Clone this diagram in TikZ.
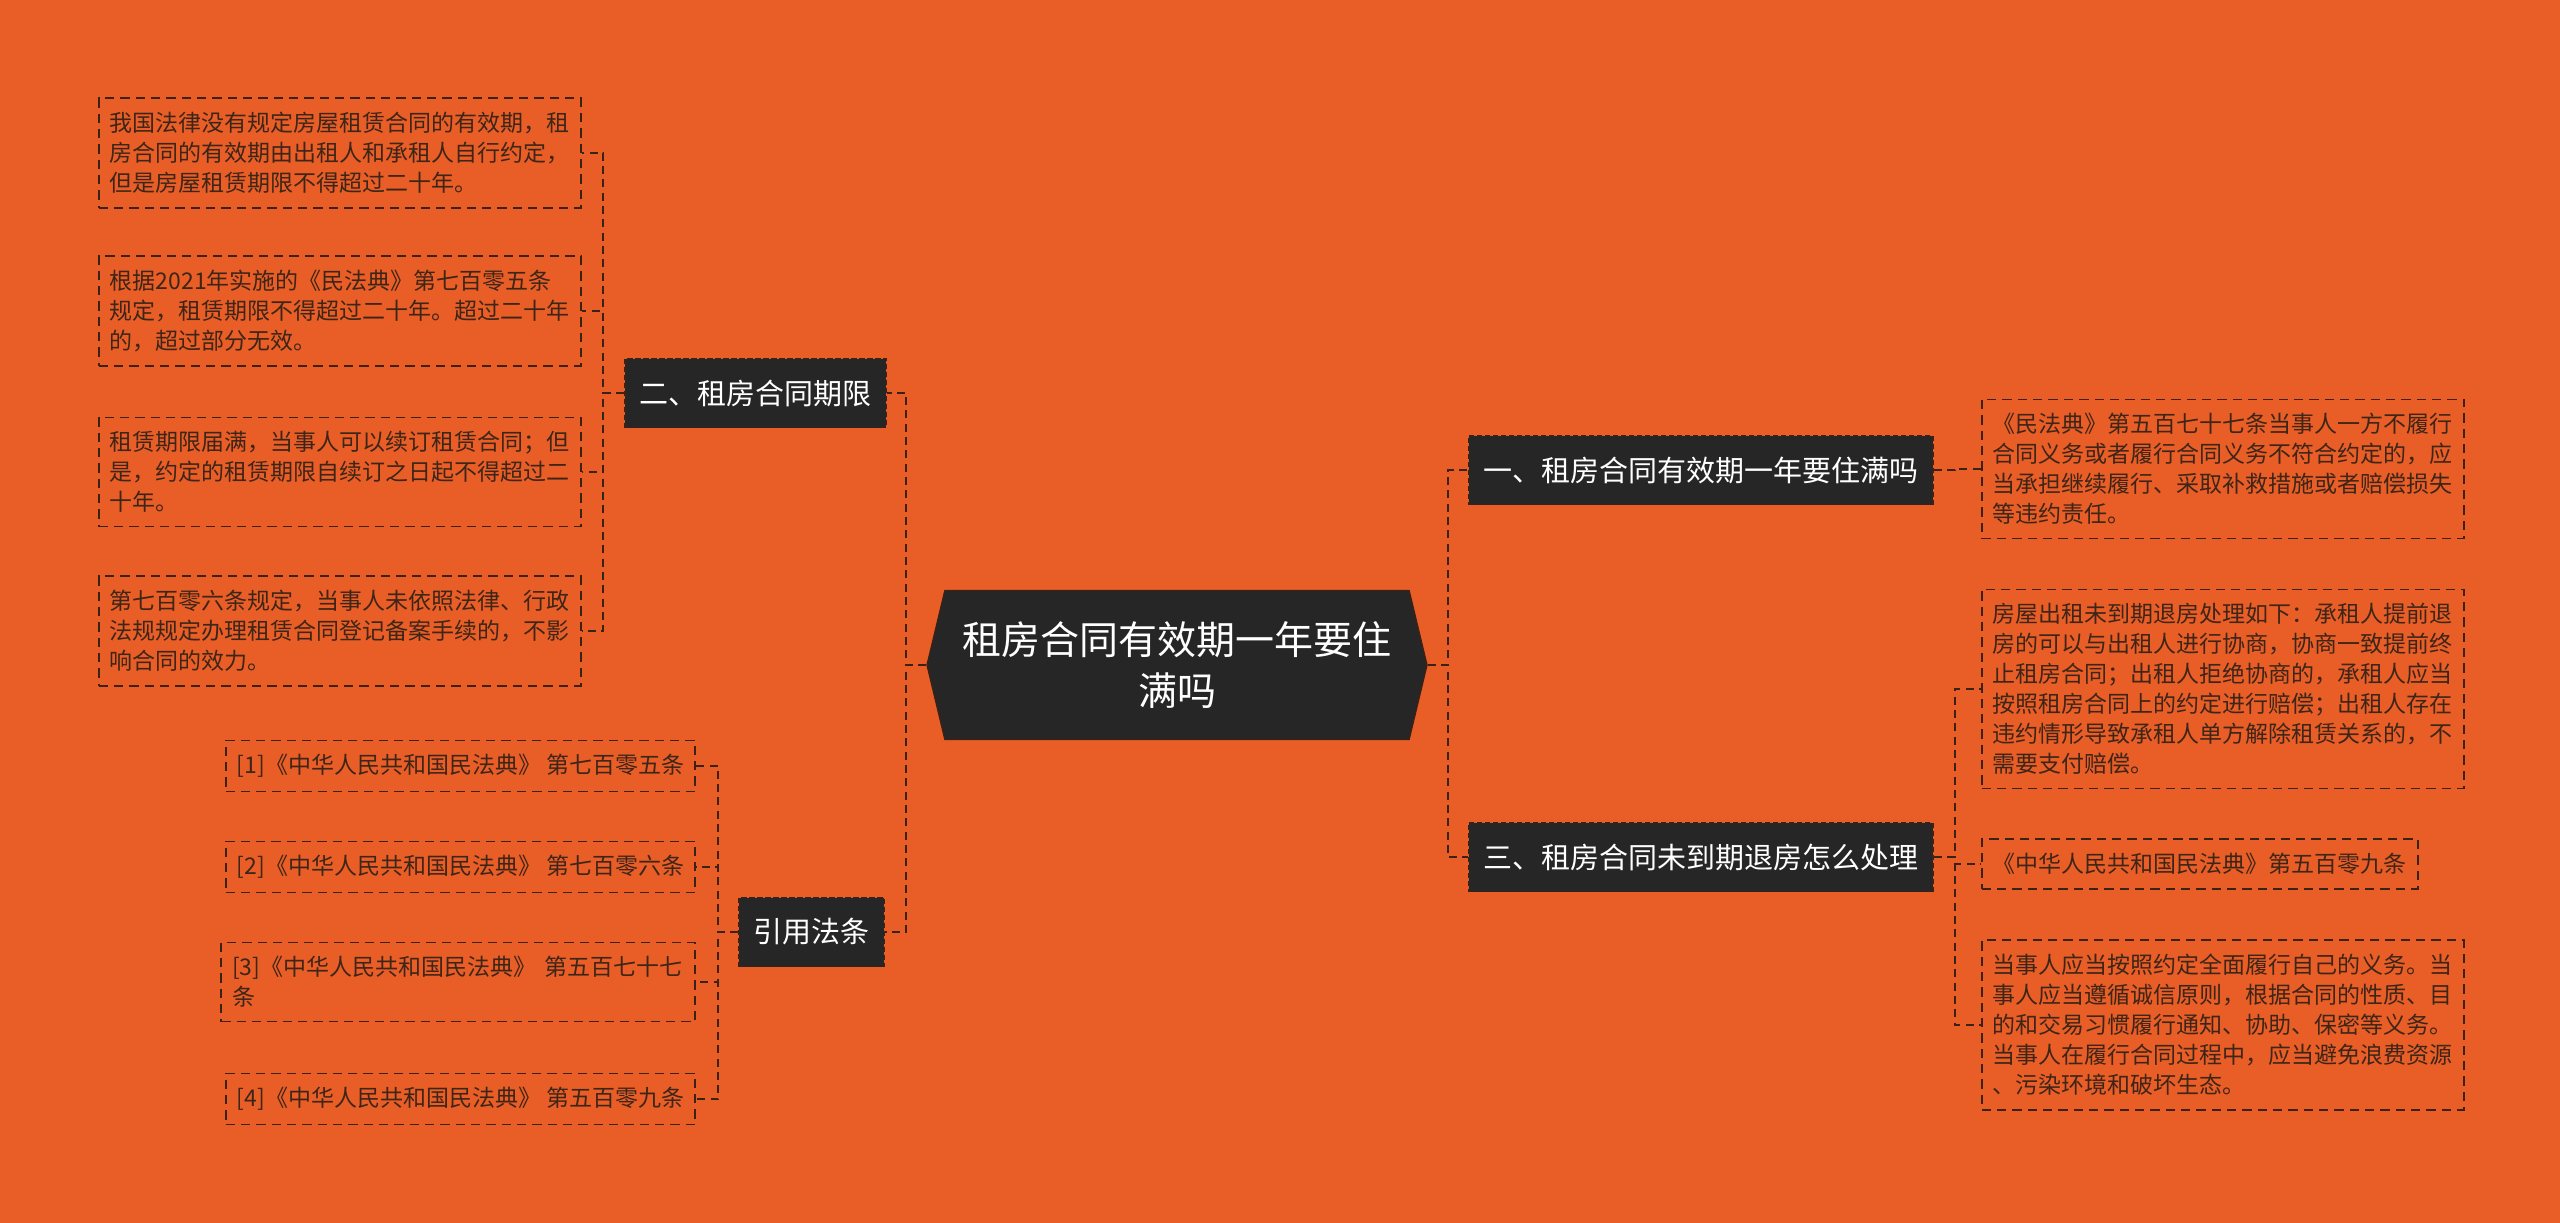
\documentclass[tikz,border=0pt]{standalone}
\usepackage{fontspec}
\setmainfont{Noto Sans CJK SC}
\usetikzlibrary{shapes.symbols}
\definecolor{bgorange}{HTML}{E95E27}
\definecolor{boxdark}{HTML}{262626}
\definecolor{linedark}{HTML}{3A2216}
\definecolor{leaftext}{HTML}{3D2518}

\begin{document}
\begin{tikzpicture}[x=0.75pt,y=-0.75pt,
    link/.style={draw=linedark,line width=1.5pt,dash pattern=on 6pt off 4pt},
    leaf/.style={draw=linedark,line width=1.2pt,dash pattern=on 7pt off 4.5pt,text=leaftext,
      font=\fontsize{17.25}{22.5}\selectfont,align=left,inner xsep=8.25pt,inner ysep=10.5pt},
    wide/.style={text width=345pt},
    topic/.style={fill=boxdark,draw=linedark,line width=1pt,dash pattern=on 4pt off 2pt,text=white,
      font=\fontsize{21.75}{26}\selectfont,inner xsep=11pt,minimum height=51.75pt},
    root/.style={signal,signal to=east and west,signal pointer angle=153,fill=boxdark,draw=linedark,
      line width=1pt,text=white,font=\fontsize{29.25}{38.25}\selectfont,align=center,
      minimum width=375pt,minimum height=111.75pt}]
  \fill[bgorange] (0,0) rectangle (2560,1223);
  \useasboundingbox (0,0) rectangle (2560,1223);

  \node[root] (root) at (1177,665) {租房合同有效期一年要住\\满吗};

  \node[topic,anchor=east] (qixian) at (887,393) {二、租房合同期限};
  \node[topic,anchor=east] (fatiao) at (885,932) {引用法条};
  \node[topic,anchor=west] (youxiao) at (1468,470) {一、租房合同有效期一年要住满吗};
  \node[topic,anchor=west] (tuifang) at (1468,857) {三、租房合同未到期退房怎么处理};

  \node[leaf,wide,anchor=west] (qx1) at (98,153) {我国法律没有规定房屋租赁合同的有效期，租\\房合同的有效期由出租人和承租人自行约定，\\但是房屋租赁期限不得超过二十年。};
  \node[leaf,wide,anchor=west] (qx2) at (98,311) {根据2021年实施的《民法典》第七百零五条\\规定，租赁期限不得超过二十年。超过二十年\\的，超过部分无效。};
  \node[leaf,wide,anchor=west] (qx3) at (98,472) {租赁期限届满，当事人可以续订租赁合同；但\\是，约定的租赁期限自续订之日起不得超过二\\十年。};
  \node[leaf,wide,anchor=west] (qx4) at (98,631) {第七百零六条规定，当事人未依照法律、行政\\法规规定办理租赁合同登记备案手续的，不影\\响合同的效力。};

  \node[leaf,anchor=east] (ft1) at (696,766) {[1]《中华人民共和国民法典》 第七百零五条};
  \node[leaf,anchor=east] (ft2) at (696,867) {[2]《中华人民共和国民法典》 第七百零六条};
  \node[leaf,anchor=east,text width=339pt] (ft3) at (696,982) {[3]《中华人民共和国民法典》 第五百七十七\\条};
  \node[leaf,anchor=east] (ft4) at (696,1099) {[4]《中华人民共和国民法典》 第五百零九条};

  \node[leaf,wide,anchor=west] (yx1) at (1981,469) {《民法典》第五百七十七条当事人一方不履行\\合同义务或者履行合同义务不符合约定的，应\\当承担继续履行、采取补救措施或者赔偿损失\\等违约责任。};

  \node[leaf,wide,anchor=west] (tf1) at (1981,689) {房屋出租未到期退房处理如下：承租人提前退\\房的可以与出租人进行协商，协商一致提前终\\止租房合同；出租人拒绝协商的，承租人应当\\按照租房合同上的约定进行赔偿；出租人存在\\违约情形导致承租人单方解除租赁关系的，不\\需要支付赔偿。};
  \node[leaf,anchor=west] (tf2) at (1981,864) {《中华人民共和国民法典》第五百零九条};
  \node[leaf,wide,anchor=west] (tf3) at (1981,1025) {当事人应当按照约定全面履行自己的义务。当\\事人应当遵循诚信原则，根据合同的性质、目\\的和交易习惯履行通知、协助、保密等义务。\\当事人在履行合同过程中，应当避免浪费资源\\、污染环境和破坏生态。};

  \foreach \n in {qixian,fatiao}
  \draw[link] (root.west) -- ++(-20,0) |- (\n.east);
  \foreach \n in {youxiao,tuifang}
  \draw[link] (root.east) -- ++(20,0) |- (\n.west);
  \foreach \n in {qx1,qx2,qx3,qx4}
  \draw[link] (qixian.west) -- ++(-21,0) |- (\n.east);
  \foreach \n in {ft1,ft2,ft3,ft4}
  \draw[link] (fatiao.west) -- ++(-20,0) |- (\n.east);
  \draw[link] (youxiao.east) -- ++(21,0) |- (yx1.west);
  \foreach \n in {tf1,tf2,tf3}
  \draw[link] (tuifang.east) -- ++(21,0) |- (\n.west);
\end{tikzpicture}
\end{document}
